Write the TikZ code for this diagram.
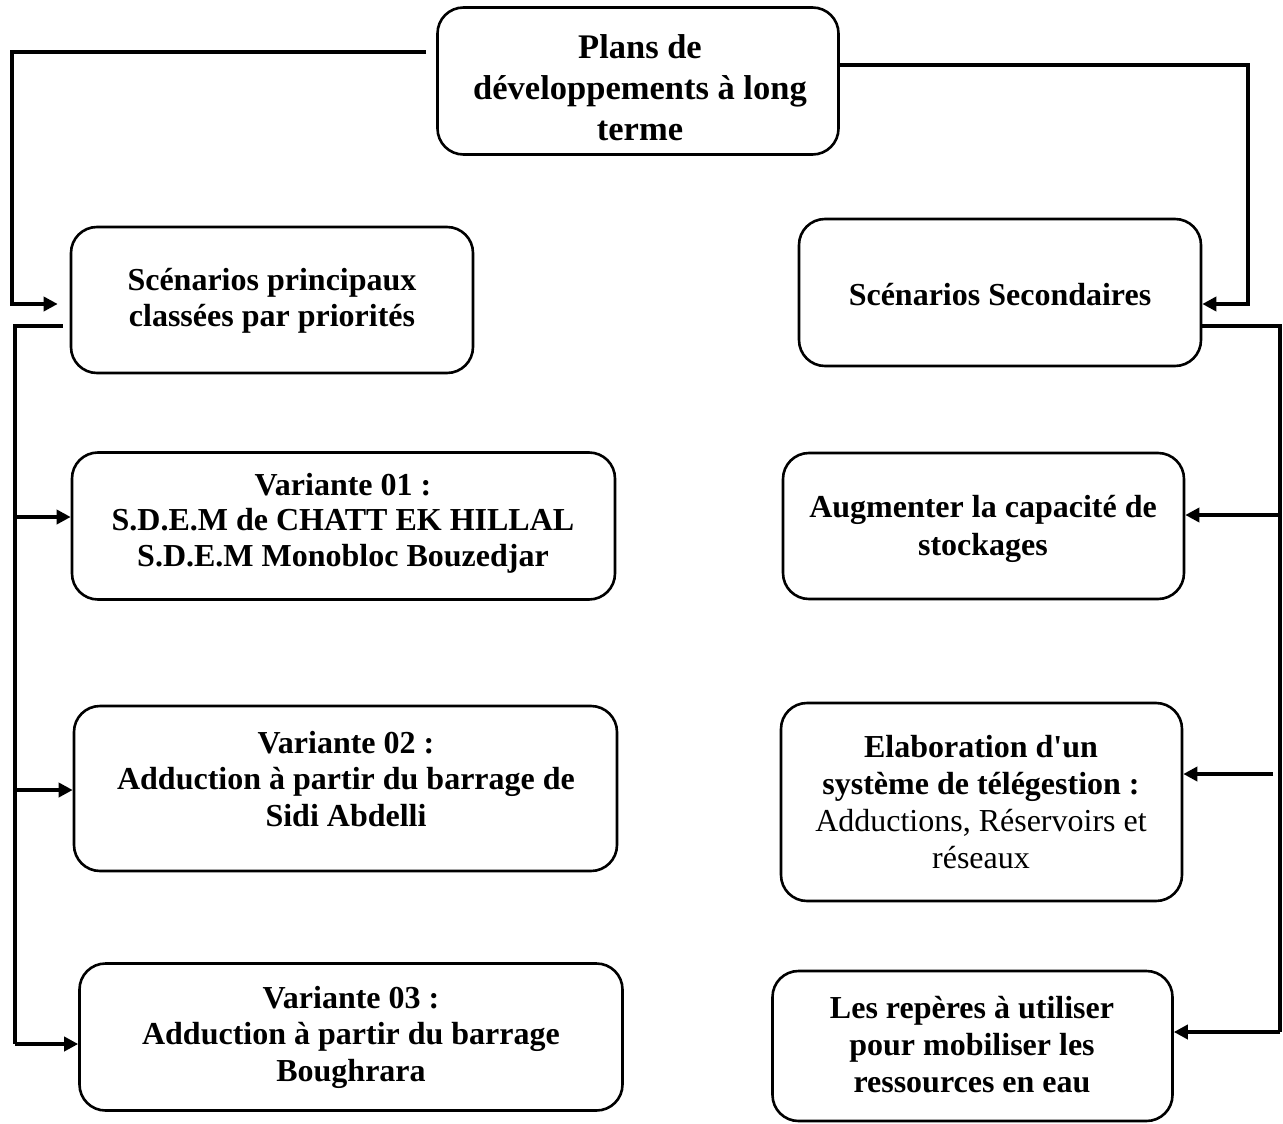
\documentclass[tikz,border=0pt]{standalone}
\usepackage{fontspec}
\setmainfont{Liberation Serif}
\usetikzlibrary{arrows.meta}
\begin{document}
\begin{tikzpicture}[x=1pt,y=-1pt,
  box/.style={draw=black, line width=2.6pt, rounded corners=26pt, inner sep=0pt},
  txt/.style={align=center, inner sep=0pt, font=\fontsize{32}{36.5}\selectfont\bfseries},
  conn/.style={line width=3.6pt, line cap=butt},
  arr/.style={conn, -{Triangle[length=14pt,width=14pt]}}
]
\useasboundingbox (0,0) rectangle (1283,1124);
% boxes
\node[box, minimum width=401pt, minimum height=147pt] (top) at (638,81) {};
\node[box, minimum width=402pt, minimum height=146pt] (p) at (272,300) {};
\node[box, minimum width=543pt, minimum height=147pt] (v1) at (343.5,526) {};
\node[box, minimum width=543pt, minimum height=165pt] (v2) at (345.5,788.5) {};
\node[box, minimum width=543pt, minimum height=147pt] (v3) at (351,1037) {};
\node[box, minimum width=402pt, minimum height=147pt] (s) at (1000,292.5) {};
\node[box, minimum width=401pt, minimum height=146pt] (a) at (983.5,526) {};
\node[box, minimum width=401pt, minimum height=198pt] (e) at (981.5,802) {};
\node[box, minimum width=400pt, minimum height=150pt] (r) at (972.5,1046) {};
% texts
\node[txt, font=\fontsize{34.5}{41}\selectfont\bfseries] (topt) at (640,88) {Plans de\\développements à long\\terme};
\node[txt] (pt) at (272,301) {Scénarios principaux\\classées par priorités};
\node[txt, font=\fontsize{32}{35.5}\selectfont\bfseries] (v1t) at (343,523) {Variante 01 :\\S.D.E.M de CHATT EK HILLAL\\S.D.E.M Monobloc Bouzedjar};
\node[txt] (v2t) at (346,779) {Variante 02 :\\Adduction à partir du barrage de\\Sidi Abdelli};
\node[txt] (v3t) at (351,1037) {Variante 03 :\\Adduction à partir du barrage\\Boughrara};
\node[txt] (st) at (1000,295) {Scénarios Secondaires};
\node[txt, font=\fontsize{32}{38}\selectfont\bfseries] (at) at (983,529) {Augmenter la capacité de\\stockages};
\node[txt, font=\fontsize{32}{37.3}\selectfont\bfseries] (et) at (981,802) {Elaboration d\textquotesingle un\\système de télégestion :\\\mdseries Adductions, Réservoirs et\\\mdseries réseaux};
\node[txt, font=\fontsize{32}{37}\selectfont\bfseries] (rt) at (972,1045) {Les repères à utiliser\\pour mobiliser les\\ressources en eau};
% bend points
\coordinate (l1a) at (12,52);
\coordinate (l1b) at (12,304);
\coordinate (l2a) at (15,326);
\coordinate (l2b) at (15,1044);
\coordinate (r1a) at (1248,65);
\coordinate (r1b) at (1248,304);
\coordinate (r2a) at (1280,326);
\coordinate (r2b) at (1280,1032);
\coordinate (lv1) at (15,517);
\coordinate (lv2) at (15,790);
\coordinate (ra) at (1280,515);
\coordinate (rE) at (1273,774);
% left side
\draw[arr] ([xshift=-10pt]top.west |- l1a) -- (l1a) -- (l1b) -- ([xshift=-12pt]p.west |- l1b);
\draw[conn] ([xshift=-7pt]p.west |- l2a) -- (l2a) -- (l2b);
\draw[arr] (lv1) -- (lv1 -| v1.west);
\draw[arr] (lv2) -- (lv2 -| v2.west);
\draw[arr] (l2b) -- (l2b -| v3.west);
% right side
\draw[arr] (top.east |- r1a) -- (r1a) -- (r1b) -- (r1b -| s.east);
\draw[conn] (s.east |- r2a) -- (r2a) -- (r2b);
\draw[arr] (ra) -- (ra -| a.east);
\draw[arr] (rE) -- (rE -| e.east);
\draw[arr] (r2b) -- (r2b -| r.east);
\end{tikzpicture}
\end{document}
